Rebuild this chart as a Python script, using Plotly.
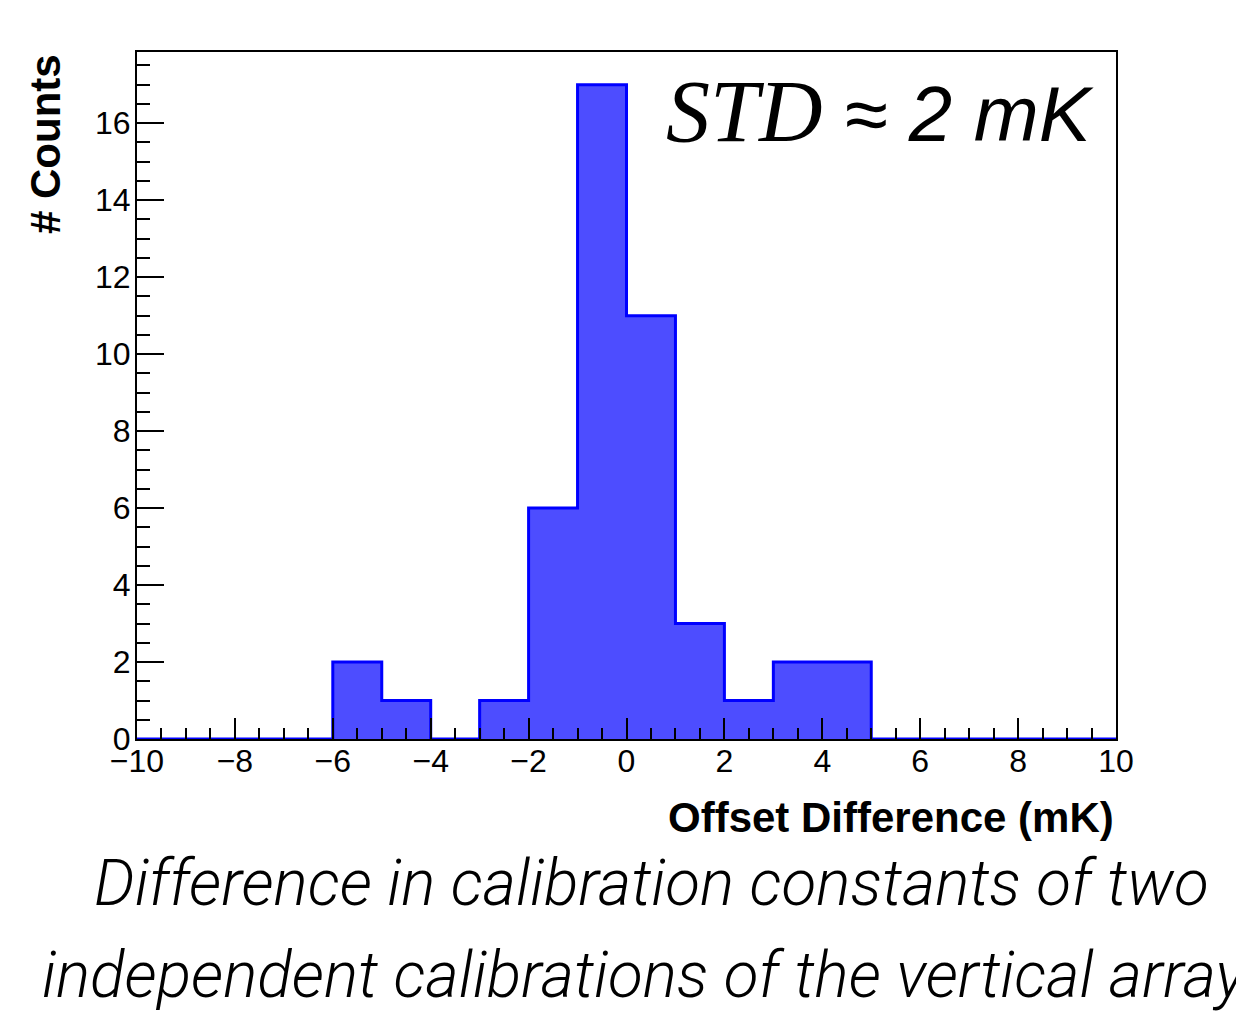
import plotly.graph_objects as go

# ---- data ----
bin_edges = [-10, -9, -8, -7, -6, -5, -4, -3, -2, -1, 0, 1, 2, 3, 4, 5, 6, 7, 8, 9, 10]
counts = [0, 0, 0, 0, 2, 1, 0, 1, 6, 17, 11, 3, 1, 2, 2, 0, 0, 0, 0, 0]
x_title = "Offset Difference (mK)"
y_title = "# Counts"
caption_1 = "Difference in calibration constants of two"
caption_2 = "independent calibrations of the vertical array"

centers = [(a + b) / 2 for a, b in zip(bin_edges[:-1], bin_edges[1:])]
widths = [b - a for a, b in zip(bin_edges[:-1], bin_edges[1:])]

# plot area in pixels
W, H = 1236, 1024
L, R, T, B = 137, 1116, 52, 739
def px(xp):
    return (xp - L) / (R - L)
def py(yp):
    return (B - yp) / (B - T)

fig = go.Figure()
fig.add_trace(go.Bar(
    x=centers, y=counts, width=widths,
    marker=dict(color="rgb(77,77,255)", line=dict(width=0)),
    hoverinfo="skip", showlegend=False,
))
fig.add_trace(go.Scatter(
    x=bin_edges, y=counts + [counts[-1]],
    mode="lines", line=dict(color="#0000ff", width=3, shape="hv"),
    hoverinfo="skip", showlegend=False,
))

tickfont = dict(family="Liberation Sans, Arial, sans-serif", size=32, color="black")
fig.update_layout(
    width=W, height=H,
    margin=dict(l=L, r=W - R, t=T, b=H - B),
    paper_bgcolor="white", plot_bgcolor="white",
    bargap=0,
    xaxis=dict(
        range=[-10, 10], tickmode="linear", tick0=-10, dtick=2,
        ticks="inside", ticklen=21, tickwidth=1.5, tickcolor="black",
        minor=dict(ticks="inside", ticklen=11, tickwidth=1.5, tickcolor="black", dtick=0.5, tick0=-10),
        showline=True, linecolor="black", linewidth=2, mirror=True,
        showgrid=False, zeroline=False, tickfont=tickfont,
        ticklabelstandoff=-7,
    ),
    yaxis=dict(
        range=[0, 17.85], tickmode="linear", tick0=0, dtick=2,
        ticks="inside", ticklen=27, tickwidth=1.5, tickcolor="black",
        minor=dict(ticks="inside", ticklen=13, tickwidth=1.5, tickcolor="black", dtick=0.5, tick0=0),
        showline=True, linecolor="black", linewidth=2, mirror=True,
        showgrid=False, zeroline=False, tickfont=tickfont,
        ticklabelstandoff=-2,
    ),
)

bold = dict(family="Liberation Sans, Arial, sans-serif", size=42, color="black", weight="bold")
fig.add_annotation(
    text="<b>" + y_title + "</b>", xref="paper", yref="paper",
    x=px(45), y=1.0, xanchor="center", yanchor="top",
    textangle=-90, showarrow=False, font=bold,
)
fig.add_annotation(
    text="<b>" + x_title + "</b>", xref="paper", yref="paper",
    x=1.0, y=py(817), xanchor="right", yanchor="middle",
    showarrow=False, font=bold,
)
fig.add_annotation(
    text="<i><span style='font-family:Liberation Serif, Times New Roman, serif;font-size:88px'>STD</span> ≈ 2 mK</i>",
    xref="paper", yref="paper", x=px(1096), y=py(112),
    xanchor="right", yanchor="middle", showarrow=False,
    font=dict(family="Liberation Sans, Arial, sans-serif", size=78, color="black"),
)
capfont = dict(family="Roboto, Liberation Sans, sans-serif", size=64, color="black", style="italic", weight=300)
fig.add_annotation(
    text=caption_1, xref="paper", yref="paper", x=px(651), y=py(883),
    xanchor="center", yanchor="middle", showarrow=False, font=capfont,
)
fig.add_annotation(
    text=caption_2, xref="paper", yref="paper", x=px(40), y=py(975),
    xanchor="left", yanchor="middle", showarrow=False, font=capfont,
)

fig.write_html("out.html")
